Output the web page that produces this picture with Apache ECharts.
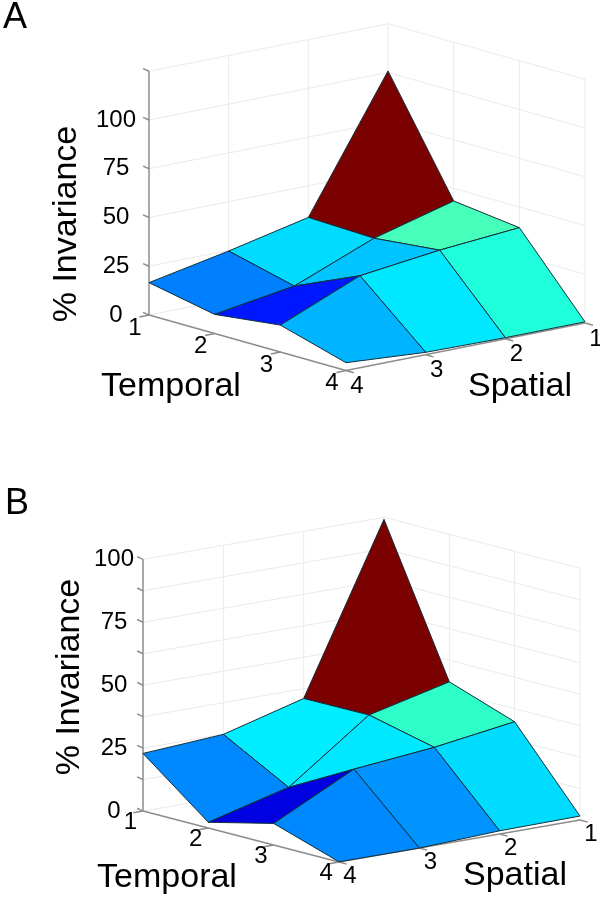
<!DOCTYPE html>
<html>
<head>
<meta charset="utf-8">
<script src="https://cdn.jsdelivr.net/npm/echarts@6/dist/echarts.min.js"></script>
<style>
    html, body { margin: 0; padding: 0; background: #fff; }
    #chart { width: 600px; height: 900px; }
</style>
</head>
<body>
<div id="chart"></div>
<script>
// axis positions of the grid, rows are temporal 1-4, columns are spatial 1-4
const temporal = [1, 2, 3, 4];
const spatial = [1, 2, 3, 4];

const surfaceA = [
    [100.8, 33.8, 24.7, 16.6],
    [43.6, 32.6, 16.2, 9.8],
    [39.4, 36.0, 31.0, 13.8],
    [0.6, 0.6, 1.2, 4.0]
];
const surfaceB = [
    [99.2, 33.6, 24.9, 22.9],
    [41.4, 33.8, 10.6, 2.3],
    [32.3, 27.7, 24.6, 8.6],
    [1.6, 1.3, 0.0, 0.1]
];

const zTicksA = [0, 25, 50, 75, 100, 125];
const zLabelsA = ['0', '25', '50', '75', '100', ''];
const zTicksB = [0, 12.5, 25, 37.5, 50, 62.5, 75, 87.5, 100];
const zLabelsB = ['0', '', '25', '', '50', '', '75', '', '100'];

// flat cell colours, same layout as the surfaces (one less each way)
const cellColorsA = [
    ['#7b0000', '#00dcff', '#0080ff'],
    ['#46ffbb', '#00c4ff', '#0018ff'],
    ['#20ffdc', '#00e8ff', '#00b4ff']
];
const cellColorsB = [
    ['#7b0000', '#00eeff', '#0088ff'],
    ['#2effc8', '#00e8ff', '#0000e0'],
    ['#00dcff', '#0094ff', '#0088ff']
];

const FONT = '"Liberation Sans", Arial, sans-serif';
const GRID_COLOR = '#ebebeb';
const AXIS_COLOR = '#8c8c8c';
const EDGE_COLOR = '#12303a';

// project (temporal, spatial, percent) onto the flat hidden axes of a panel
function projector(panel) {
    return function (t, s, z) {
        const a = t - 1;
        const b = 4 - s;
        return [a * panel.tx + b * panel.sx, z + a * panel.ty + b * panel.sy];
    };
}

function wallSegments(zTicks, zTop) {
    const segs = [];
    zTicks.forEach(function (z) {
        segs.push({from: [1, 4, z], to: [1, 1, z], color: GRID_COLOR});
        segs.push({from: [1, 1, z], to: [4, 1, z], color: GRID_COLOR});
    });
    spatial.forEach(function (s) {
        if (s !== 4) segs.push({from: [1, s, 0], to: [1, s, zTop], color: GRID_COLOR});
    });
    temporal.forEach(function (t) {
        if (t !== 1) segs.push({from: [t, 1, 0], to: [t, 1, zTop], color: GRID_COLOR});
    });
    return segs;
}

function axisSegments(zTicks, zTop) {
    const segs = [
        {from: [1, 4, 0], to: [1, 4, zTop], color: AXIS_COLOR},
        {from: [1, 4, 0], to: [4, 4, 0], color: AXIS_COLOR},
        {from: [4, 4, 0], to: [4, 1, 0], color: AXIS_COLOR}
    ];
    zTicks.forEach(function (z) {
        segs.push({from: [1, 4, z], to: [0.91, 4, z + 0.5], color: AXIS_COLOR});
    });
    temporal.forEach(function (t) {
        segs.push({from: [t, 4, 0], to: [t, 4.12, 0], color: AXIS_COLOR});
    });
    spatial.forEach(function (s) {
        segs.push({from: [4, s, 0], to: [4.12, s, 0], color: AXIS_COLOR});
    });
    return segs;
}

function tickTexts(panel) {
    const items = [];
    panel.zTicks.forEach(function (z, i) {
        if (panel.zLabels[i]) {
            items.push({at: [1, 4, z], dx: panel.zdx, dy: 0, text: panel.zLabels[i]});
        }
    });
    temporal.forEach(function (t) {
        items.push({at: [t, 4, 0], dx: panel.tLabel[0], dy: panel.tLabel[1], text: String(t)});
    });
    spatial.forEach(function (s) {
        items.push({at: [4, s, 0], dx: panel.sLabel[0], dy: panel.sLabel[1], text: String(s)});
    });
    return items;
}

function surfaceCells(panel) {
    // back corner first so nearer cells paint over farther ones
    const cells = [];
    for (let i = 0; i < temporal.length - 1; i++) {
        for (let j = 0; j < spatial.length - 1; j++) {
            cells.push({i: i, j: j, color: panel.colors[i][j]});
        }
    }
    return cells;
}

function lineSeries(panel, index, segs, width, z) {
    const project = projector(panel);
    return {
        type: 'custom',
        coordinateSystem: 'cartesian2d',
        xAxisIndex: index,
        yAxisIndex: index,
        clip: false,
        silent: true,
        z: z,
        data: segs.map(function (_, i) { return [i, i]; }),
        renderItem: function (params, api) {
            const seg = segs[params.dataIndex];
            const p0 = api.coord(project(seg.from[0], seg.from[1], seg.from[2]));
            const p1 = api.coord(project(seg.to[0], seg.to[1], seg.to[2]));
            return {
                type: 'line',
                shape: {x1: p0[0], y1: p0[1], x2: p1[0], y2: p1[1]},
                style: {stroke: seg.color, lineWidth: width}
            };
        }
    };
}

function surfaceSeries(panel, index) {
    const project = projector(panel);
    const cells = surfaceCells(panel);
    return {
        type: 'custom',
        coordinateSystem: 'cartesian2d',
        xAxisIndex: index,
        yAxisIndex: index,
        clip: false,
        silent: true,
        z: 3,
        data: cells.map(function (_, i) { return [i, i]; }),
        renderItem: function (params, api) {
            const cell = cells[params.dataIndex];
            const corners = [[0, 0], [1, 0], [1, 1], [0, 1]].map(function (d) {
                const i = cell.i + d[0];
                const j = cell.j + d[1];
                return api.coord(project(temporal[i], spatial[j], panel.surface[i][j]));
            });
            return {
                type: 'polygon',
                shape: {points: corners},
                style: {fill: cell.color, stroke: EDGE_COLOR, lineWidth: 1}
            };
        }
    };
}

function textSeries(panel, index) {
    const project = projector(panel);
    const items = tickTexts(panel);
    return {
        type: 'custom',
        coordinateSystem: 'cartesian2d',
        xAxisIndex: index,
        yAxisIndex: index,
        clip: false,
        silent: true,
        z: 4,
        data: items.map(function (_, i) { return [i, i]; }),
        renderItem: function (params, api) {
            const item = items[params.dataIndex];
            const p = api.coord(project(item.at[0], item.at[1], item.at[2]));
            return {
                type: 'text',
                style: {
                    x: p[0] + item.dx,
                    y: p[1] + item.dy,
                    text: item.text,
                    font: '24px ' + FONT,
                    fill: '#000',
                    align: 'center',
                    verticalAlign: 'middle'
                }
            };
        }
    };
}

function titleText(text, x, y, size, rotated) {
    return {
        type: 'text',
        x: x,
        y: y,
        rotation: rotated ? Math.PI / 2 : 0,
        style: {
            text: text,
            font: size + 'px ' + FONT,
            fill: '#000',
            align: 'center',
            verticalAlign: 'middle'
        }
    };
}

const panels = [
    {
        surface: surfaceA, colors: cellColorsA, zTicks: zTicksA, zLabels: zLabelsA, zTop: 125,
        tx: 65.67, sx: 79.67, ty: -9.487, sy: 8.12,
        grid: {left: 149, top: 22.5, width: 436, height: 351}, yRange: [-30, 150],
        zdx: -33, tLabel: [-14, 13], sLabel: [11, 16]
    },
    {
        surface: surfaceB, colors: cellColorsB, zTicks: zTicksB, zLabels: zLabelsB, zTop: 100,
        tx: 65.33, sx: 80.33, ty: -6.754, sy: 5.562,
        grid: {left: 143, top: 509, width: 437, height: 365}, yRange: [-25, 120],
        zdx: -29, tLabel: [-12.7, 11], sLabel: [11, 14]
    }
];

const chart = echarts.init(document.getElementById('chart'), null, {renderer: 'canvas'});
const series = [];
panels.forEach(function (panel, i) {
    series.push(lineSeries(panel, i, wallSegments(panel.zTicks, panel.zTop), 1, 1));
    series.push(lineSeries(panel, i, axisSegments(panel.zTicks, panel.zTop), 1.5, 2));
    series.push(surfaceSeries(panel, i));
    series.push(textSeries(panel, i));
});

chart.setOption({
    animation: false,
    backgroundColor: '#fff',
    grid: panels.map(function (p) { return p.grid; }),
    xAxis: panels.map(function (p, i) {
        return {type: 'value', gridIndex: i, min: 0, max: p.grid.width, show: false};
    }),
    yAxis: panels.map(function (p, i) {
        return {type: 'value', gridIndex: i, min: p.yRange[0], max: p.yRange[1], show: false};
    }),
    series: series,
    graphic: [
        titleText('A', 15, 18, 36),
        titleText('B', 17, 504, 36),
        titleText('% Invariance', 67, 224, 34, true),
        titleText('% Invariance', 70, 677, 34, true),
        titleText('Temporal', 171, 387, 34),
        titleText('Spatial', 520, 387, 34),
        titleText('Temporal', 167, 878, 34),
        titleText('Spatial', 515, 876, 34)
    ]
});
</script>
</body>
</html>
